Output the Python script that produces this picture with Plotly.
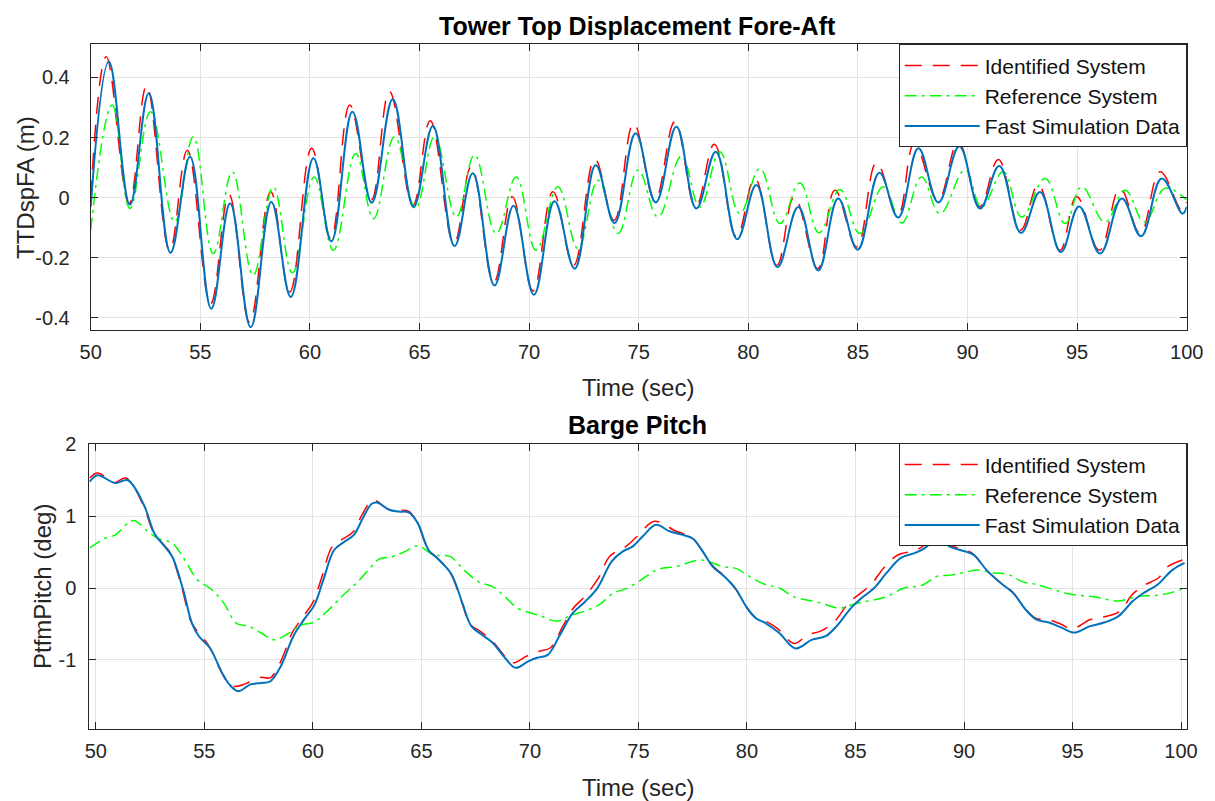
import plotly.graph_objects as go

# ---------------- Tower top displacement fore-aft (m) ----------------
ttd_fast_t = [50.00, 50.83, 51.79, 52.65, 53.64, 54.53, 55.50, 56.36, 57.30, 58.24,
              59.13, 60.16, 60.98, 61.94, 62.82, 63.78, 64.73, 65.61, 66.60, 67.43,
              68.42, 69.29, 70.22, 71.16, 72.08, 73.04, 73.90, 74.86, 75.78, 76.72,
              77.63, 78.52, 79.49, 80.37, 81.33, 82.28, 83.19, 84.10, 84.99, 85.98,
              86.84, 87.76, 88.67, 89.63, 90.57, 91.45, 92.44, 93.31, 94.26, 95.09,
              96.05, 97.04, 97.92, 98.86, 99.81, 100.0]
ttd_fast_v = [-0.030, 0.453, -0.023, 0.347, -0.183, 0.136, -0.369, -0.019, -0.431, -0.014,
              -0.330, 0.131, -0.145, 0.286, -0.017, 0.327, -0.031, 0.238, -0.161, 0.081,
              -0.292, -0.027, -0.323, -0.012, -0.236, 0.108, -0.084, 0.214, -0.016, 0.236,
              -0.036, 0.153, -0.138, 0.042, -0.231, -0.031, -0.242, -0.003, -0.173, 0.083,
              -0.066, 0.164, -0.016, 0.171, -0.036, 0.105, -0.117, 0.019, -0.181, -0.029,
              -0.186, -0.003, -0.128, 0.064, -0.053, -0.030]

ttd_ident_t = [50.00, 50.71, 51.75, 52.55, 53.60, 54.41, 55.47, 56.31, 57.25, 58.21,
               59.08, 60.08, 60.95, 61.82, 62.80, 63.63, 64.70, 65.49, 66.57, 67.36,
               68.39, 69.23, 70.18, 71.09, 72.03, 73.00, 73.88, 74.77, 75.74, 76.65,
               77.60, 78.45, 79.46, 80.30, 81.30, 82.10, 83.17, 83.95, 84.95, 85.85,
               86.82, 87.58, 88.65, 89.58, 90.55, 91.41, 92.42, 93.23, 94.22, 94.98,
               96.02, 96.96, 97.88, 98.79, 99.78, 100.0]
ttd_ident_v = [0.000, 0.469, -0.020, 0.372, -0.175, 0.158, -0.353, 0.010, -0.414, 0.020,
               -0.314, 0.164, -0.136, 0.308, -0.008, 0.353, -0.025, 0.256, -0.153, 0.103,
               -0.281, 0.003, -0.310, 0.020, -0.225, 0.128, -0.075, 0.247, -0.008, 0.253,
               -0.030, 0.178, -0.130, 0.064, -0.225, 0.003, -0.236, 0.025, -0.164, 0.116,
               -0.058, 0.181, -0.008, 0.186, -0.030, 0.127, -0.108, 0.042, -0.175, 0.003,
               -0.175, 0.031, -0.119, 0.086, -0.042, -0.014]

ttd_ref_t = [50.00, 50.98, 51.79, 52.73, 53.83, 54.68, 55.59, 56.46, 57.41, 58.33,
             59.20, 60.19, 61.07, 62.09, 62.90, 63.86, 64.82, 65.69, 66.68, 67.51,
             68.50, 69.41, 70.32, 71.31, 72.23, 73.15, 74.06, 74.97, 75.88, 76.95,
             77.79, 78.70, 79.61, 80.53, 81.45, 82.35, 83.23, 84.18, 85.09, 86.16,
             87.00, 87.90, 88.74, 89.89, 90.64, 91.63, 92.47, 93.54, 94.45, 95.21,
             96.27, 97.19, 98.07, 99.02, 100.0]
ttd_ref_v = [-0.108, 0.308, -0.036, 0.286, -0.081, 0.203, -0.186, 0.086, -0.258, 0.036,
             -0.250, 0.069, -0.175, 0.147, -0.070, 0.203, -0.036, 0.203, -0.064, 0.142,
             -0.119, 0.069, -0.175, 0.036, -0.169, 0.058, -0.119, 0.092, -0.064, 0.138,
             -0.031, 0.153, -0.053, 0.097, -0.086, 0.049, -0.117, 0.027, -0.119, 0.036,
             -0.084, 0.069, -0.053, 0.092, -0.031, 0.086, -0.064, 0.064, -0.086, 0.036,
             -0.081, 0.025, -0.081, 0.031, -0.008]

# ---------------- Platform (barge) pitch (deg) ----------------
pitch_fast_t = [49.72, 50.08, 50.90, 51.48, 52.21, 52.70, 53.11, 53.52, 54.02, 54.43,
                54.75, 55.25, 55.82, 56.15, 56.56, 57.13, 57.62, 58.03, 58.52, 59.10,
                59.59, 60.08, 60.49, 60.98, 61.48, 61.89, 62.30, 62.70, 62.95, 63.52,
                63.93, 64.43, 64.84, 65.33, 65.82, 66.39, 66.89, 67.30, 67.79, 68.28,
                68.85, 69.34, 69.92, 70.33, 70.82, 71.39, 71.97, 72.54, 73.11, 73.77,
                74.28, 74.74, 75.20, 75.81, 76.43, 77.04, 77.50, 77.96, 78.42, 78.96,
                79.50, 79.95, 80.41, 80.87, 81.49, 82.25, 82.98, 83.63, 84.13, 84.79,
                85.28, 85.86, 86.43, 87.09, 87.75, 88.16, 88.73, 89.39, 90.05, 90.46,
                91.04, 91.69, 92.27, 92.84, 93.34, 93.91, 94.49, 95.07, 95.81, 96.46,
                97.12, 97.78, 98.27, 98.93, 99.59, 100.16]
pitch_fast_v = [1.48, 1.57, 1.46, 1.50, 1.16, 0.76, 0.60, 0.44, -0.02, -0.49,
                -0.67, -0.83, -1.18, -1.34, -1.435, -1.34, -1.32, -1.30, -1.09, -0.67,
                -0.44, -0.23, 0.12, 0.53, 0.65, 0.74, 0.97, 1.17, 1.19, 1.09,
                1.065, 1.05, 0.90, 0.53, 0.39, 0.19, -0.21, -0.53, -0.65, -0.76,
                -0.97, -1.11, -1.02, -0.97, -0.93, -0.65, -0.35, -0.19, 0.00, 0.37,
                0.51, 0.58, 0.72, 0.88, 0.79, 0.74, 0.69, 0.51, 0.30, 0.16,
                -0.02, -0.25, -0.42, -0.49, -0.625, -0.84, -0.72, -0.67, -0.53, -0.28,
                -0.14, 0.00, 0.21, 0.42, 0.49, 0.55, 0.67, 0.57, 0.51, 0.46,
                0.25, 0.07, -0.07, -0.30, -0.44, -0.48, -0.55, -0.62, -0.53, -0.48,
                -0.39, -0.18, -0.07, 0.05, 0.25, 0.35]

pitch_ident_t = [49.72, 50.08, 50.85, 51.39, 52.15, 52.65, 53.05, 53.45, 53.95, 54.38,
                 54.72, 55.20, 55.75, 56.05, 56.39, 56.90, 57.62, 58.03, 58.52, 59.05,
                 59.55, 60.02, 60.42, 60.90, 61.42, 61.85, 62.25, 62.65, 62.87, 63.45,
                 63.90, 64.40, 64.80, 65.30, 65.80, 66.35, 66.85, 67.25, 67.75, 68.22,
                 68.80, 69.22, 69.83, 70.44, 70.95, 71.52, 72.00, 72.55, 73.20, 73.67,
                 74.43, 74.95, 75.74, 76.73, 77.04, 77.45, 77.92, 78.38, 78.92, 79.45,
                 79.90, 80.35, 80.85, 81.40, 82.18, 82.81, 83.39, 84.05, 84.70, 85.20,
                 85.75, 86.30, 86.95, 87.70, 88.10, 88.57, 89.30, 90.00, 90.40, 91.00,
                 91.62, 92.22, 92.80, 93.30, 93.90, 94.45, 94.98, 95.80, 96.46, 97.20,
                 97.72, 98.25, 98.95, 99.40, 100.16]
pitch_ident_v = [1.53, 1.60, 1.47, 1.53, 1.18, 0.78, 0.63, 0.48, 0.02, -0.46,
                 -0.62, -0.80, -1.15, -1.30, -1.37, -1.33, -1.24, -1.25, -1.02, -0.62,
                 -0.40, -0.19, 0.16, 0.58, 0.69, 0.78, 1.01, 1.20, 1.22, 1.10,
                 1.08, 1.07, 0.92, 0.55, 0.40, 0.20, -0.19, -0.50, -0.61, -0.72,
                 -0.93, -1.04, -0.95, -0.88, -0.83, -0.53, -0.28, -0.11, 0.16, 0.44,
                 0.58, 0.72, 0.93, 0.79, 0.76, 0.71, 0.53, 0.32, 0.18, 0.00,
                 -0.23, -0.40, -0.46, -0.56, -0.77, -0.65, -0.60, -0.46, -0.20, -0.08,
                 0.06, 0.28, 0.46, 0.52, 0.58, 0.69, 0.60, 0.53, 0.48, 0.26,
                 0.09, -0.05, -0.28, -0.42, -0.44, -0.50, -0.57, -0.44, -0.40, -0.32,
                 -0.10, 0.03, 0.14, 0.30, 0.40]

pitch_ref_t = [49.72, 50.41, 50.90, 51.72, 52.38, 52.87, 53.52, 54.10, 54.67, 55.33,
               55.90, 56.48, 57.05, 57.62, 58.20, 58.77, 59.43, 60.08, 60.74, 61.39,
               62.05, 62.70, 63.03, 63.69, 64.26, 64.84, 65.57, 66.31, 66.97, 67.62,
               68.28, 68.85, 69.43, 70.08, 70.60, 71.23, 71.97, 72.54, 73.20, 73.85,
               74.51, 75.25, 75.90, 76.73, 77.88, 78.87, 79.52, 80.18, 80.84, 81.50,
               82.15, 83.31, 84.29, 84.95, 85.77, 86.43, 87.25, 88.08, 88.73, 89.39,
               90.05, 90.62, 91.37, 92.02, 92.68, 93.34, 94.33, 94.98, 95.97, 97.12,
               97.94, 98.93, 99.59, 100.16]
pitch_ref_v = [0.56, 0.69, 0.74, 0.94, 0.79, 0.69, 0.625, 0.39, 0.12, -0.02,
               -0.21, -0.49, -0.53, -0.625, -0.72, -0.65, -0.52, -0.47, -0.30, -0.10,
               0.08, 0.30, 0.40, 0.44, 0.51, 0.59, 0.46, 0.44, 0.25, 0.09,
               0.02, -0.12, -0.28, -0.35, -0.40, -0.46, -0.37, -0.32, -0.23, -0.07,
               0.00, 0.14, 0.26, 0.30, 0.39, 0.30, 0.27, 0.15, 0.05, 0.00,
               -0.12, -0.20, -0.28, -0.22, -0.17, -0.12, 0.00, 0.04, 0.16, 0.18,
               0.22, 0.25, 0.21, 0.19, 0.09, 0.05, -0.04, -0.09, -0.12, -0.18,
               -0.12, -0.10, -0.06, 0.00]

# ---------------- axis ticks ----------------
time_ticks = [50, 55, 60, 65, 70, 75, 80, 85, 90, 95, 100]
time_ticktext = ["50", "55", "60", "65", "70", "75", "80", "85", "90", "95", "100"]
ttd_ticks = [-0.4, -0.2, 0, 0.2, 0.4]
ttd_ticktext = ["-0.4", "-0.2", "0", "0.2", "0.4"]
pitch_ticks = [-1, 0, 1, 2]
pitch_ticktext = ["-1", "0", "1", "2"]

series_names = ["Identified System", "Reference System", "Fast Simulation Data"]

W, H = 1215, 801
FONT = "Liberation Sans, Arial, Helvetica, sans-serif"
AX_COLOR = "#262626"
GRID = "#E3E3E3"

red_line = dict(color="#FF0000", width=1.5, dash="17px,11px")
green_line = dict(color="#00FF00", width=1.5, dash="12px,5px,3px,5px")
blue_line = dict(color="#0072BD", width=2)


def px_x(p):
    return p / W


def px_y(p):
    return 1 - p / H


fig = go.Figure()

top = [(ttd_ident_t, ttd_ident_v, red_line),
       (ttd_ref_t, ttd_ref_v, green_line),
       (ttd_fast_t, ttd_fast_v, blue_line)]
bottom = [(pitch_ident_t, pitch_ident_v, red_line),
          (pitch_ref_t, pitch_ref_v, green_line),
          (pitch_fast_t, pitch_fast_v, blue_line)]

for name, (t, v, ln) in zip(series_names, top):
    fig.add_trace(go.Scatter(x=t, y=v, mode="lines", name=name,
                             line=dict(shape="spline", smoothing=1.15, **ln),
                             xaxis="x", yaxis="y", legend="legend"))
for name, (t, v, ln) in zip(series_names, bottom):
    fig.add_trace(go.Scatter(x=t, y=v, mode="lines", name=name,
                             line=dict(shape="spline", smoothing=1.0, **ln),
                             xaxis="x2", yaxis="y2", legend="legend2"))


def axis_style(**kw):
    base = dict(showline=True, linecolor=AX_COLOR, linewidth=1, mirror="ticks",
                ticks="inside", ticklen=7, tickwidth=1, tickcolor=AX_COLOR,
                showgrid=True, gridcolor=GRID, gridwidth=1, zeroline=False,
                automargin=False,
                tickfont=dict(family=FONT, size=20, color=AX_COLOR),
                fixedrange=True)
    base.update(kw)
    return base


legend_common = dict(xanchor="right", yanchor="top",
                     bgcolor="white", bordercolor=AX_COLOR, borderwidth=1,
                     font=dict(family=FONT, size=21, color="#111111"),
                     itemwidth=75, traceorder="normal", tracegroupgap=0)

fig.update_layout(
    width=W, height=H,
    margin=dict(l=0, r=0, t=0, b=0, autoexpand=False),
    paper_bgcolor="white", plot_bgcolor="white",
    showlegend=True,
    xaxis=axis_style(domain=[px_x(90.7), px_x(1186.7)], range=[50, 100],
                     tickvals=time_ticks, ticktext=time_ticktext,
                     anchor="y", ticklabelstandoff=4),
    yaxis=axis_style(domain=[px_y(330), px_y(44.3)], range=[-0.44, 0.51],
                     tickvals=ttd_ticks, ticktext=ttd_ticktext,
                     anchor="x", ticklabelstandoff=16),
    xaxis2=axis_style(domain=[px_x(89.3), px_x(1186.7)], range=[49.7, 100.26],
                      tickvals=time_ticks, ticktext=time_ticktext,
                      anchor="y2", ticklabelstandoff=4),
    yaxis2=axis_style(domain=[px_y(729.3), px_y(444.3)], range=[-1.965, 2.0],
                      tickvals=pitch_ticks, ticktext=pitch_ticktext,
                      anchor="x2", ticklabelstandoff=8),
    legend=dict(x=px_x(1186.7), y=px_y(44.3), **legend_common),
    legend2=dict(x=px_x(1186.7), y=px_y(443.3), **legend_common),
)

title_font = dict(family=FONT, size=25, color="#000000")
label_font = dict(family=FONT, size=24, color=AX_COLOR)
notes = [
    dict(text="<b>Tower Top Displacement Fore-Aft</b>", x=px_x(637), y=px_y(26),
         font=title_font, textangle=0),
    dict(text="<b>Barge Pitch</b>", x=px_x(637), y=px_y(425),
         font=title_font, textangle=0),
    dict(text="Time (sec)", x=px_x(638), y=px_y(387), font=label_font, textangle=0),
    dict(text="Time (sec)", x=px_x(638), y=px_y(787), font=label_font, textangle=0),
    dict(text="TTDspFA (m)", x=px_x(25), y=px_y(188), font=label_font, textangle=-90),
    dict(text="PtfmPitch (deg)", x=px_x(42), y=px_y(586), font=label_font, textangle=-90),
]
for n in notes:
    fig.add_annotation(xref="paper", yref="paper", xanchor="center", yanchor="middle",
                       showarrow=False, **n)

fig.write_html("out.html")
